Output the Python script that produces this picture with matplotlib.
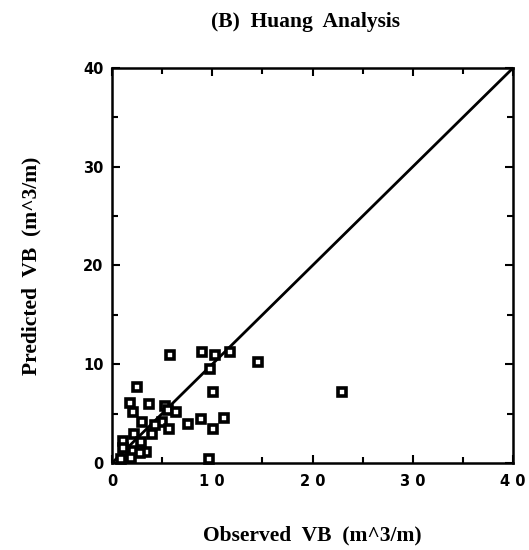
import matplotlib
matplotlib.use("Agg")
import matplotlib.pyplot as plt
from matplotlib.ticker import MultipleLocator, FuncFormatter

# observed vs predicted VB (m^3/m)
observed = [5.8, 9.0, 10.3, 11.8, 14.6, 9.8, 2.5, 10.1, 1.75, 3.7,
            5.3, 5.6, 6.4, 2.1, 11.2, 8.9, 7.6, 10.1, 3.0, 5.0,
            4.3, 5.7, 4.0, 2.2, 2.9, 1.1, 1.1, 2.1, 3.4, 2.8,
            0.9, 1.85, 9.7, 22.9]
predicted = [10.9, 11.2, 10.9, 11.2, 10.2, 9.5, 7.7, 7.2, 6.1, 5.95,
             5.8, 5.35, 5.2, 5.15, 4.6, 4.45, 3.9, 3.4, 4.15, 4.2,
             3.8, 3.4, 2.9, 2.9, 2.15, 2.25, 1.5, 1.25, 1.1, 1.0,
             0.45, 0.5, 0.45, 7.2]
diag = [0, 40]

plt.rcParams['font.family'] = 'DejaVu Sans'
plt.rcParams['font.weight'] = 'bold'

fig = plt.figure(figsize=(5.29, 5.5), dpi=100)
ax = fig.add_axes([0.2117, 0.1582, 0.7581, 0.7182])

ax.plot(diag, diag, color="black", linewidth=2)
ax.plot(observed, predicted, linestyle="none", marker="s", markersize=6,
        markerfacecolor="white", markeredgecolor="black", markeredgewidth=2.6,
        clip_on=False)

ax.set_xlim(0, 40)
ax.set_ylim(0, 40)
ax.xaxis.set_major_locator(MultipleLocator(10))
ax.yaxis.set_major_locator(MultipleLocator(10))
ax.xaxis.set_minor_locator(MultipleLocator(5))
ax.yaxis.set_minor_locator(MultipleLocator(5))
# x labels are printed with a gap between digits
ax.xaxis.set_major_formatter(FuncFormatter(lambda v, p: " ".join(str(int(v)))))
ax.yaxis.set_major_formatter(FuncFormatter(lambda v, p: str(int(v))))
ax.tick_params(which="both", direction="in", top=True, right=True, width=1.5)
ax.tick_params(which="major", length=6, labelsize=10.5)
ax.tick_params(which="minor", length=4)
ax.tick_params(axis="x", pad=8)
ax.tick_params(axis="y", pad=6)
for s in ax.spines.values():
    s.set_linewidth(1.8)

serif = {"family": "Liberation Serif", "weight": "bold", "size": 15.5}
ax.set_xlabel("Observed  VB  (m^3/m)", fontdict=serif, labelpad=26)
ax.set_ylabel("Predicted  VB  (m^3/m)", fontdict=serif, labelpad=30)
fig.text(0.577, 0.96, "(B)  Huang  Analysis", ha="center", va="center",
         fontdict=serif)

fig.savefig("out.png", dpi=100)
